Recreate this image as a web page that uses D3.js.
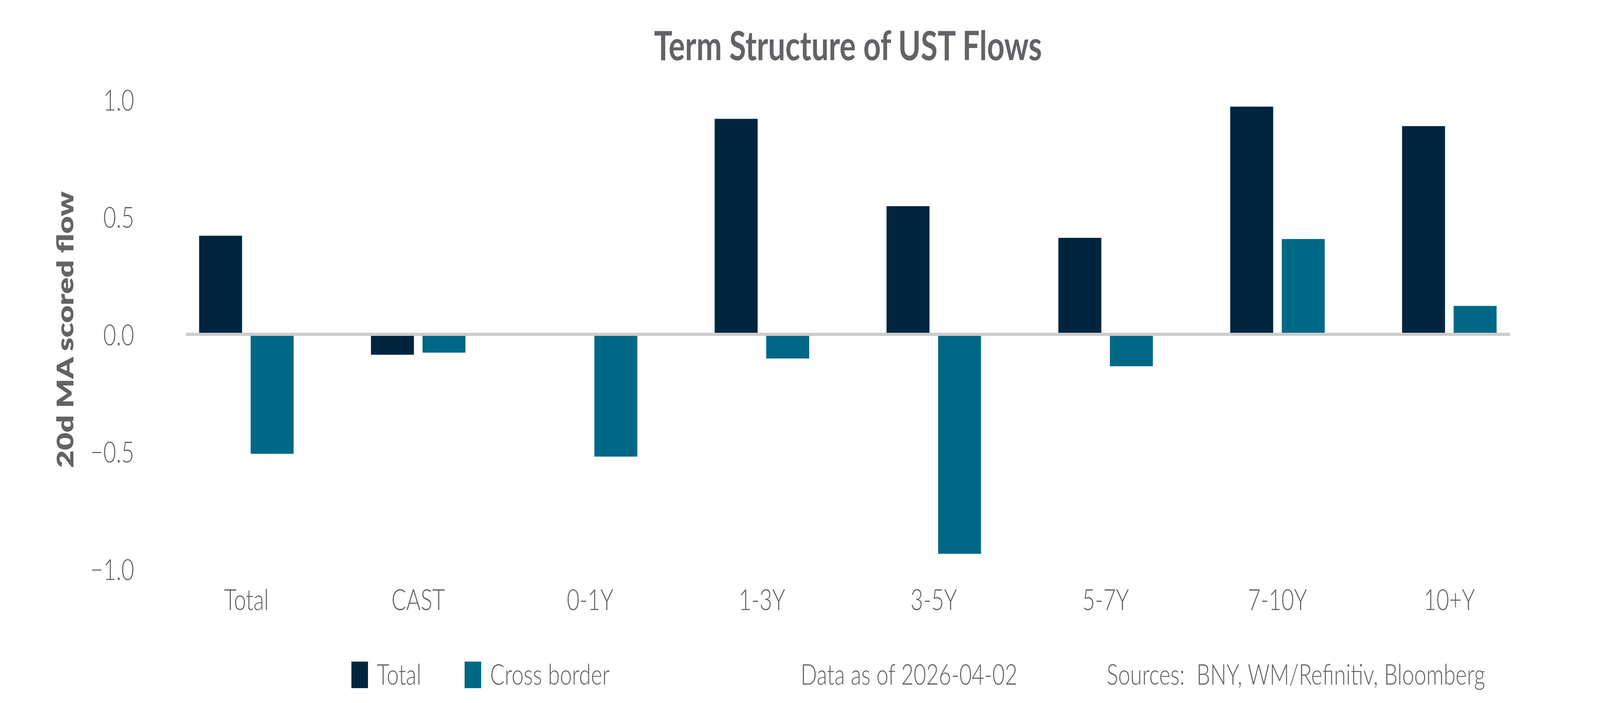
<!DOCTYPE html>
<html>
<head>
<meta charset="utf-8">
<script src="https://cdn.jsdelivr.net/npm/d3@7"></script>
<style>
  html, body { margin: 0; padding: 0; background: #fff; overflow: hidden; }
  #chart { width: 100vw; height: 100vh; }
  svg { display: block; }
</style>
</head>
<body>
<div id="chart"></div>
<script>
// data
const categories = ["Total", "CAST", "0-1Y", "1-3Y", "3-5Y", "5-7Y", "7-10Y", "10+Y"];
const seriesNames = ["Total", "Cross border"];
const totalValues = [0.42, -0.087, 0, 0.918, 0.546, 0.411, 0.970, 0.887];
const crossValues = [-0.509, -0.078, -0.521, -0.103, -0.935, -0.136, 0.406, 0.121];
const yTicks = [-1.0, -0.5, 0.0, 0.5, 1.0];
const titleText = "Term Structure of UST Flows";
const yTitle = "20d MA scored flow";
const dateNote = "Data as of 2026-04-02";
const sourceNote = "Sources:  BNY, WM/Refinitiv, Bloomberg";

const colors = ["#01253F", "#006887"];
const textColor = "#626366";
const font = "Lato, 'Open Sans', sans-serif";

// drawing is laid out on a 5400x1800 board and stretched to the window
const width = 5400;
const height = 1800;

const svg = d3.select("#chart")
  .append("svg")
  .attr("width", window.innerWidth || width)
  .attr("height", window.innerHeight || height)
  .attr("viewBox", "0 0 " + width + " " + height)
  .attr("preserveAspectRatio", "none")
  .style("background", "#fff");

// scales
const x0 = d3.scaleBand()
  .domain(categories)
  .range([541.5, 5181.5])
  .paddingInner(0.45)
  .paddingOuter(0.225);

const x1 = d3.scaleBand()
  .domain(seriesNames)
  .range([0, x0.bandwidth()])
  .paddingInner(0.1667)
  .paddingOuter(0);

const y = d3.scaleLinear()
  .domain([-1, 1])
  .range([1457, 255]);

const color = d3.scaleOrdinal().domain(seriesNames).range(colors);

const rows = categories.map((c, i) => ({
  cat: c,
  values: [
    { name: seriesNames[0], value: totalValues[i] },
    { name: seriesNames[1], value: crossValues[i] }
  ]
}));

// title, centred over the plot
const lineX0 = 627, lineX1 = 5097;
svg.append("text")
  .attr("x", (lineX0 + lineX1) / 2)
  .attr("y", 154)
  .attr("text-anchor", "middle")
  .style("font-family", font)
  .style("font-weight", 700)
  .style("font-size", "103px")
  .style("fill", textColor)
  .text(titleText);

// y axis labels
const yAxis = svg.append("g")
  .attr("transform", "translate(453,0)")
  .call(d3.axisLeft(y).tickValues(yTicks).tickSize(0).tickPadding(0)
    .tickFormat(d => d3.format(".1f")(d).replace("-", "\u2212")));
yAxis.select(".domain").remove();
yAxis.selectAll("text")
  .attr("dy", "0.36em")
  .style("font-family", font)
  .style("font-weight", 300)
  .style("font-size", "75px")
  .style("fill", textColor);

svg.append("text")
  .attr("transform", "translate(248,844) rotate(-90)")
  .attr("text-anchor", "middle")
  .style("font-family", font)
  .style("font-weight", 800)
  .style("font-size", "78px")
  .style("fill", textColor)
  .text(yTitle);

// bars
const groups = svg.append("g")
  .selectAll("g")
  .data(rows)
  .enter()
  .append("g")
  .attr("transform", d => "translate(" + x0(d.cat) + ",0)");

groups.selectAll("rect")
  .data(d => d.values)
  .enter()
  .append("rect")
  .attr("x", d => x1(d.name))
  .attr("width", x1.bandwidth())
  .attr("y", d => y(Math.max(0, d.value)))
  .attr("height", d => Math.abs(y(d.value) - y(0)))
  .attr("fill", d => color(d.name));

// zero line
svg.append("line")
  .attr("x1", lineX0)
  .attr("x2", lineX1)
  .attr("y1", y(0))
  .attr("y2", y(0))
  .attr("stroke", "#CBCCCC")
  .attr("stroke-width", 8);

// category labels
const xAxis = svg.append("g")
  .attr("transform", "translate(0,1562)")
  .call(d3.axisBottom(x0).tickSize(0).tickPadding(0));
xAxis.select(".domain").remove();
xAxis.selectAll("text")
  .attr("y", 0)
  .attr("dy", 0)
  .style("font-family", font)
  .style("font-weight", 300)
  .style("font-size", "74px")
  .style("fill", textColor);

// legend
const legendX = [1186, 1568];
const legend = svg.append("g")
  .selectAll("g")
  .data(seriesNames)
  .enter()
  .append("g")
  .attr("transform", (d, i) => "translate(" + legendX[i] + ",1694)");
legend.append("rect")
  .attr("width", 56)
  .attr("height", 68)
  .attr("fill", d => color(d));
legend.append("text")
  .attr("x", 86)
  .attr("y", 59)
  .style("font-family", font)
  .style("font-weight", 300)
  .style("font-size", "73px")
  .style("fill", textColor)
  .text(d => d);

// notes
svg.append("text")
  .attr("x", 2702)
  .attr("y", 1753)
  .style("font-family", font)
  .style("font-weight", 300)
  .style("font-size", "73px")
  .style("fill", textColor)
  .text(dateNote);

svg.append("text")
  .attr("x", 3735)
  .attr("y", 1753)
  .style("white-space", "pre")
  .style("font-family", font)
  .style("font-weight", 300)
  .style("font-size", "73px")
  .style("fill", textColor)
  .text(sourceNote);
</script>
</body>
</html>
